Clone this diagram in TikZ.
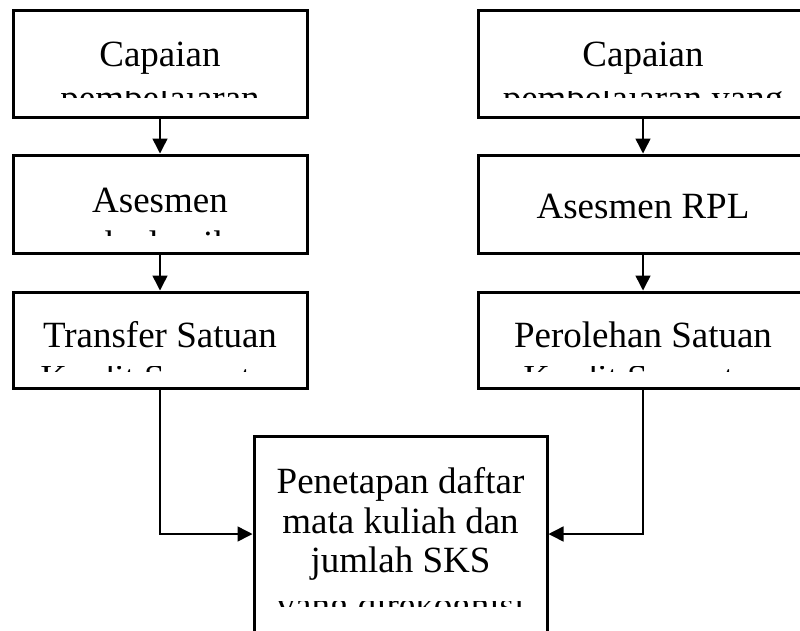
\documentclass[tikz,border=0pt]{standalone}
\usepackage{fontspec}
\setmainfont{Liberation Serif}
\usetikzlibrary{arrows.meta}
\begin{document}
\begin{tikzpicture}[x=1pt,y=-1pt,
  box/.style={draw, line width=3pt, rectangle, inner sep=0pt},
  txt/.style={font=\fontsize{37pt}{41pt}\selectfont, anchor=base, inner sep=0pt},
  conn/.style={line width=1.5pt, -{Triangle[length=15pt,width=15pt]}}]
\useasboundingbox (0,0) rectangle (800,630);
% boxes
\node[box, minimum width=294pt, minimum height=107pt] (L1) at (160,63.5) {};
\node[box, minimum width=294pt, minimum height=98pt]  (L2) at (160,204) {};
\node[box, minimum width=294pt, minimum height=96pt]  (L3) at (160,340) {};
\node[box, minimum width=330pt, minimum height=107pt] (R1) at (643,63.5) {};
\node[box, minimum width=330pt, minimum height=98pt]  (R2) at (643,204) {};
\node[box, minimum width=330pt, minimum height=96pt]  (R3) at (643,340) {};
\node[box, minimum width=293pt, minimum height=196pt] (B) at (400.5,534) {};
% texts: full lines
\node[txt] (L1a) at (160,66) {Capaian};
\node[txt] (R1a) at (643,66) {Capaian};
\node[txt] (L2a) at (160,212) {Asesmen};
\node[txt] (R2a) at (643,218) {Asesmen RPL};
\node[txt] (L3a) at (160,347) {Transfer Satuan};
\node[txt] (R3a) at (643,347) {Perolehan Satuan};
\node[txt] (Ba) at (400.5,493) {Penetapan daftar};
\node[txt] (Bb) at (400.5,533) {mata kuliah dan};
\node[txt] (Bc) at (400.5,572.5) {jumlah SKS};
% texts: clipped lines
\begin{scope}
  \clip (13,91.7) rectangle (307,97);
  \node[txt] (L1b) at (160,110) {pembelajaran};
\end{scope}
\begin{scope}
  \clip (478,91.7) rectangle (808,97);
  \node[txt] (R1b) at (643,110) {pembelajaran yang};
\end{scope}
\begin{scope}
  \clip (13,230) rectangle (307,235);
  \node[txt] (L2b) at (160,256) {akademik};
\end{scope}
\begin{scope}
  \clip (13,366) rectangle (307,371);
  \node[txt] (L3b) at (160,390.5) {Kredit Semester};
\end{scope}
\begin{scope}
  \clip (478,366) rectangle (808,371);
  \node[txt] (R3b) at (643,390.5) {Kredit Semester};
\end{scope}
\begin{scope}
  \clip (254,601.7) rectangle (547,606.7);
  \node[txt] (Bd) at (400.5,617) {yang direkognisi};
\end{scope}
% connectors
\draw[conn] (L1) -- (L2);
\draw[conn] (L2) -- (L3);
\draw[conn] (R1) -- (R2);
\draw[conn] (R2) -- (R3);
\draw[conn] (L3.south) |- (B.west);
\draw[conn] (R3.south) |- (B.east);
\end{tikzpicture}
\end{document}
